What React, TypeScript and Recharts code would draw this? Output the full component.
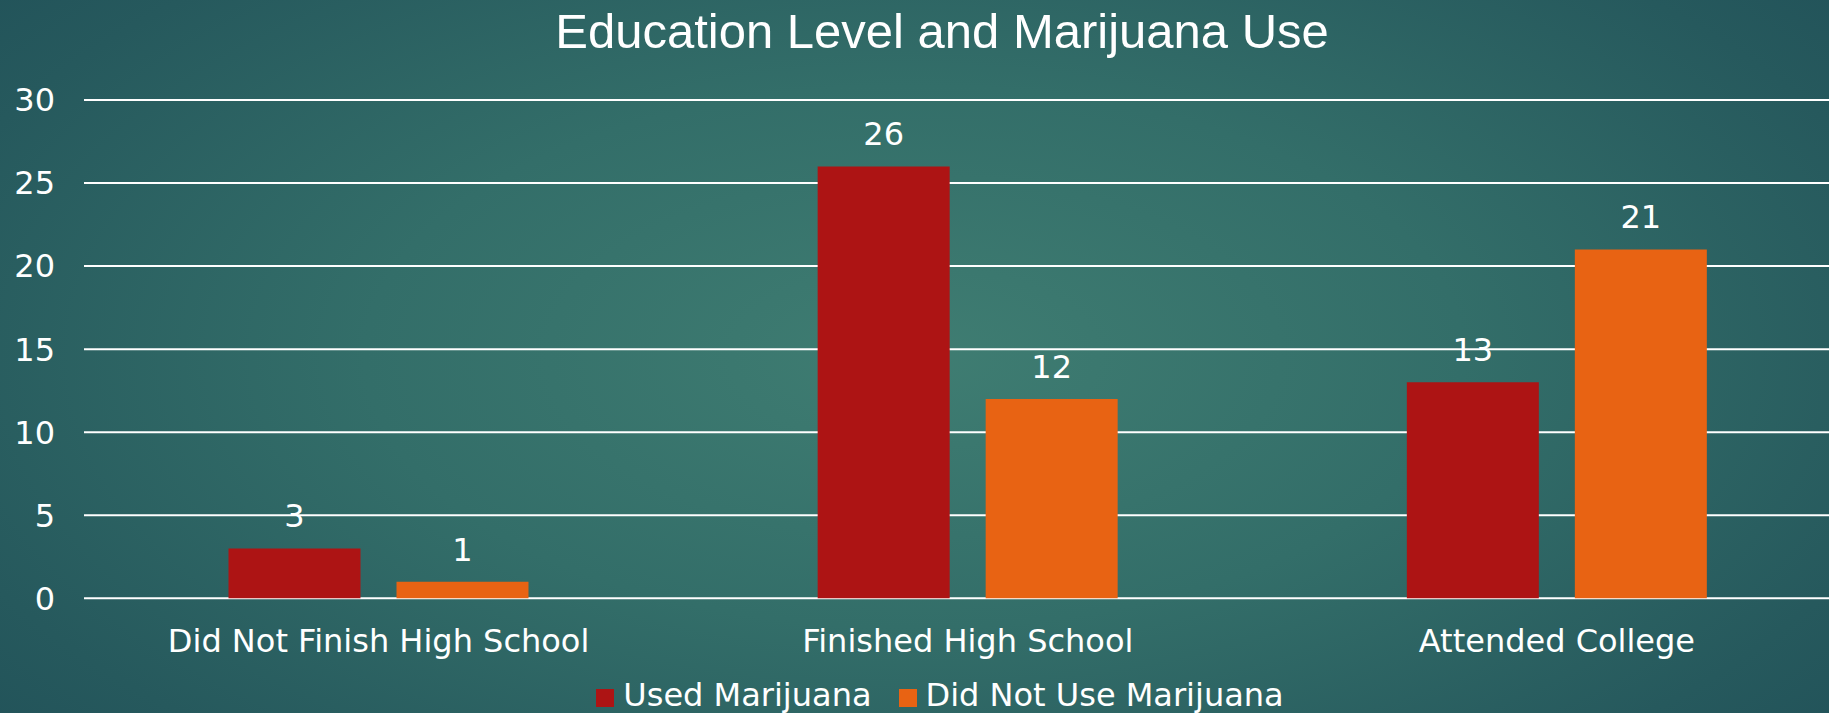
import React from 'react';
import { BarChart, Bar, XAxis, YAxis, CartesianGrid, Legend, LabelList } from 'recharts';

const categories = ['Did Not Finish High School', 'Finished High School', 'Attended College'];
const usedValues = [3, 26, 13];
const notUsedValues = [1, 12, 21];
const yTicks = [0, 5, 10, 15, 20, 25, 30];
const seriesNames = ['Used Marijuana', 'Did Not Use Marijuana'];
const seriesColors = ['#AD1414', '#E86313'];

const data = categories.map((c, i) => ({ name: c, used: usedValues[i], notUsed: notUsedValues[i] }));

const FONT = '"DejaVu Sans", Verdana, sans-serif';

const LegendContent = () => (
  <div
    style={{
      display: 'flex',
      justifyContent: 'center',
      alignItems: 'center',
      height: 36,
      lineHeight: '36px',
      fontFamily: FONT,
      fontSize: 32,
      color: '#ffffff',
      whiteSpace: 'nowrap',
    }}
  >
    {seriesNames.map((n, i) => (
      <div key={n} style={{ display: 'flex', alignItems: 'center', marginLeft: i === 0 ? 0 : 27 }}>
        <span style={{ display: 'inline-block', width: 18, height: 18, background: seriesColors[i], marginRight: 9, marginTop: 6 }} />
        <span>{n}</span>
      </div>
    ))}
  </div>
);

export default function App() {
  const W = 1880;
  const H = 713;
  return (
    <div
      style={{
        position: 'absolute',
        left: 0,
        top: 0,
        width: 1829,
        height: 713,
        overflow: 'hidden',
        background:
          'radial-gradient(ellipse 75% 95% at 50% 50%, #3f7d72 0%, #336e69 40%, #26595d 75%, #1e4d56 100%)',
      }}
    >
      <div
        style={{
          position: 'absolute',
          left: 0,
          top: 7,
          width: W + 4,
          textAlign: 'center',
          fontFamily: '"Liberation Sans", Arial, sans-serif',
          fontSize: 49,
          lineHeight: '49px',
          color: '#ffffff',
          whiteSpace: 'nowrap',
        }}
      >
        Education Level and Marijuana Use
      </div>
      <div style={{ position: 'absolute', left: 0, top: 0 }}>
        <BarChart
          width={W}
          height={H}
          data={data}
          margin={{ top: 100, right: 28.5, bottom: 0, left: 0 }}
          barCategoryGap={144.5}
          barGap={36}
        >
          <CartesianGrid vertical={false} stroke="#ffffff" strokeWidth={2} />
          <XAxis
            dataKey="name"
            axisLine={false}
            tickLine={false}
            tickSize={0}
            tickMargin={31}
            height={78.7}
            interval={0}
            tick={{ fill: '#ffffff', fontSize: 32, fontFamily: FONT }}
          />
          <YAxis
            domain={[0, 30]}
            ticks={yTicks}
            axisLine={false}
            tickLine={false}
            tickSize={0}
            tickMargin={29}
            width={84}
            tick={{ fill: '#ffffff', fontSize: 32, fontFamily: FONT }}
          />
          <Legend
            verticalAlign="bottom"
            content={<LegendContent />}
            wrapperStyle={{ left: 0, width: W }}
          />
          <Bar dataKey="used" name={seriesNames[0]} fill={seriesColors[0]} isAnimationActive={false}>
            <LabelList dataKey="used" position="top" offset={21} fill="#ffffff" fontSize={32} fontFamily={FONT} />
          </Bar>
          <Bar dataKey="notUsed" name={seriesNames[1]} fill={seriesColors[1]} isAnimationActive={false}>
            <LabelList dataKey="notUsed" position="top" offset={21} fill="#ffffff" fontSize={32} fontFamily={FONT} />
          </Bar>
        </BarChart>
      </div>
    </div>
  );
}
